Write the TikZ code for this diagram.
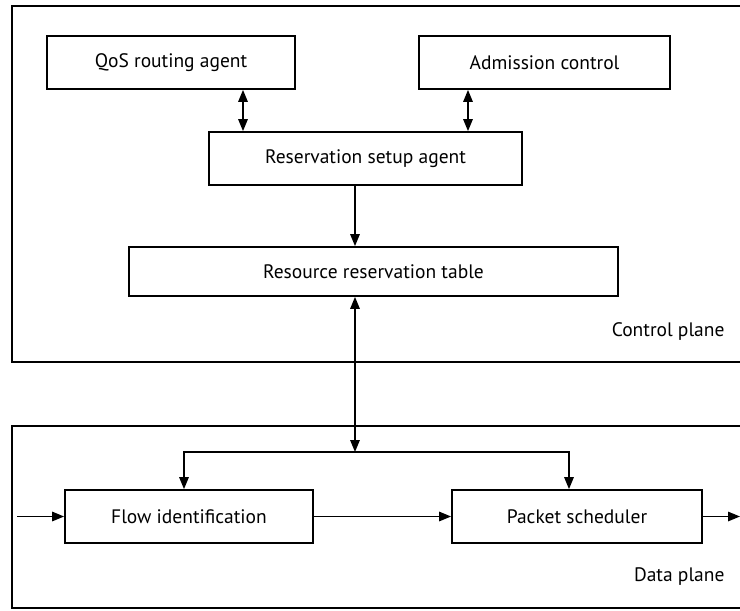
\documentclass[tikz,border=0pt]{standalone}
\usepackage{fontspec}
\setmainfont{PT Sans}
\usetikzlibrary{arrows.meta}
\begin{document}
\begin{tikzpicture}[x=1pt,y=-1pt,
  blk/.style={draw, line width=1.8pt, rectangle, minimum height=53pt, inner sep=0pt, font=\fontsize{19.5}{22}\selectfont},
  plane/.style={draw, line width=1.8pt},
  lbl/.style={anchor=east, font=\fontsize{19.5}{22}\selectfont},
  conn/.style={line width=1.5pt, -{Triangle[length=12pt,width=9.5pt]}},
  dconn/.style={line width=1.5pt, {Triangle[length=12pt,width=9.5pt]}-{Triangle[length=12pt,width=9.5pt]}}]
\useasboundingbox (0,0) rectangle (740,611);
\clip (0,0) rectangle (740,611);

% control and data plane frames (open to the right)
\draw[plane] (780,6) -- (12,6) -- (12,362) -- (780,362);
\draw[plane] (780,426) -- (12,426) -- (12,608) -- (780,608);
\node[lbl] (cpl) at (728,332) {Control plane};
\node[lbl] (dpl) at (728,577) {Data plane};

% control plane blocks
\node[blk, minimum width=248pt] (qos) at (171,62.5) {QoS routing agent};
\node[blk, minimum width=251pt] (adm) at (544.5,62.5) {Admission control};
\node[blk, minimum width=313pt] (setup) at (365.5,158.5) {Reservation setup agent};
\node[blk, minimum width=489pt, minimum height=49pt] (table) at (373.5,271.5) {Resource reservation table};

% data plane blocks
\node[blk, minimum width=248pt] (flow) at (189,516.5) {Flow identification};
\node[blk, minimum width=250pt] (pkt) at (577,516.5) {Packet scheduler};

% connector positions
\coordinate (qa) at (243,0);
\coordinate (aa) at (468,0);
\coordinate (ma) at (355,0);
\coordinate (bl) at (184,452);
\coordinate (bm) at (355,452);
\coordinate (br) at (569,452);
\coordinate (src) at (17,516.5);
\coordinate (snk) at (740,516.5);

\draw[dconn] (qos.south -| qa) -- (setup.north -| qa);
\draw[dconn] (adm.south -| aa) -- (setup.north -| aa);
\draw[conn] (setup.south -| ma) -- (table.north -| ma);
\draw[dconn] (table.south -| ma) -- (bm);
\draw[dconn] (flow.north -| bl) -- (bl) -- (br) -- (pkt.north -| br);
\draw[conn] (src) -- (flow.west);
\draw[conn] (flow.east) -- (pkt.west);
\draw[conn] (pkt.east) -- (snk);
\end{tikzpicture}
\end{document}
